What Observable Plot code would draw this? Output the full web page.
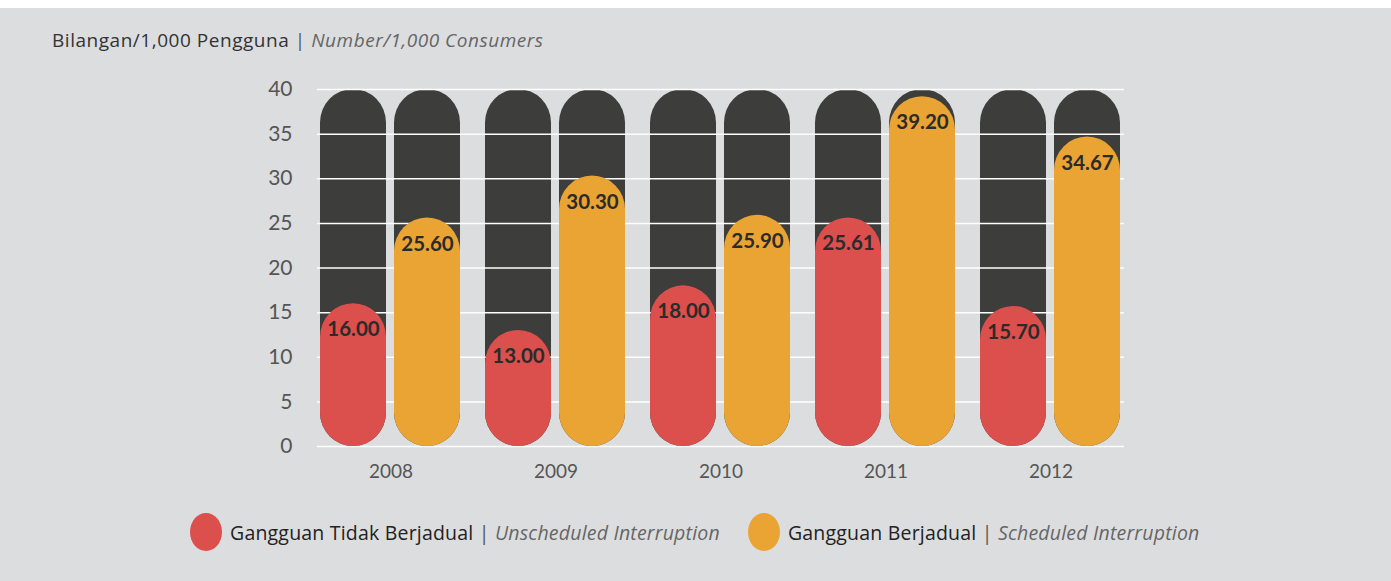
<!DOCTYPE html>
<html>
<head>
<meta charset="utf-8">
<script src="https://cdn.jsdelivr.net/npm/d3@7"></script>
<script src="https://cdn.jsdelivr.net/npm/@observablehq/plot@0.6"></script>
<style>
  html, body { margin: 0; padding: 0; background: #ffffff; }
  #wrap { position: relative; margin-top: 8px; width: 1391px; height: 573px; background: #dcdddf; font-family: "Open Sans", Lato, sans-serif; overflow: hidden; }
  #title { position: absolute; left: 52px; top: 19px; font-size: 19px; letter-spacing: 0.53px; color: #333; white-space: nowrap; }
  #title i { color: #666; }
  #chart { position: absolute; left: 0; top: 43px; }
  #legend { position: absolute; left: 190px; top: 505px; display: flex; align-items: center; font-size: 19.5px; letter-spacing: 0.2px; color: #222; white-space: nowrap; }
  .sw { width: 32px; height: 38px; border-radius: 16px / 19px; margin-right: 8px; display: inline-block; }
  .item { display: flex; align-items: center; margin-right: 28px; }
  .item i { color: #666; }
</style>
</head>
<body>
<div id="wrap">
  <div id="title">Bilangan/1,000 Pengguna <span style="color:#555">|</span> <i>Number/1,000 Consumers</i></div>
  <div id="chart"></div>
  <div id="legend"></div>
</div>
<script>
const years = ["2008", "2009", "2010", "2011", "2012"];
const seriesKeys = ["Unscheduled", "Scheduled"];
const seriesLabelsMs = ["Gangguan Tidak Berjadual", "Gangguan Berjadual"];
const seriesLabelsEn = ["Unscheduled Interruption", "Scheduled Interruption"];
const unscheduled = [16.00, 13.00, 18.00, 25.61, 15.70];
const scheduled = [25.60, 30.30, 25.90, 39.20, 34.67];
const maxValue = 40;
const yTicks = [0, 5, 10, 15, 20, 25, 30, 35, 40];
const colors = ["#db4f4d", "#e9a434"];

const data = [];
years.forEach((yr, i) => {
  data.push({year: yr, series: seriesKeys[0], value: unscheduled[i]});
  data.push({year: yr, series: seriesKeys[1], value: scheduled[i]});
});
const bgData = data.map(d => ({year: d.year, series: d.series, value: maxValue}));
const gridData = years.flatMap(yr => yTicks.map(t => ({year: yr, v: t})));
const first = years[0], last = years[years.length - 1];
const gridStyle = {fx: "year", y: "v", stroke: "#ffffff", strokeWidth: 1.5};

const chart = Plot.plot({
  width: 1391,
  height: 445,
  marginLeft: 316,
  marginRight: 265,
  marginTop: 38,
  marginBottom: 50,
  style: {background: "transparent", fontFamily: "Lato, 'Open Sans', sans-serif"},
  fx: {domain: years, paddingInner: 0.145, paddingOuter: 0.018, label: null},
  x: {domain: seriesKeys, paddingInner: 0.107, paddingOuter: 0, axis: null},
  y: {domain: [0, maxValue], axis: null},
  color: {domain: seriesKeys, range: colors},
  marks: [
    Plot.barY(bgData, {fx: "year", x: "series", y: "value", fill: "#3d3d3b", rx: 33.5}),
    Plot.ruleY(gridData.filter(d => d.year === first), {...gridStyle, insetLeft: -3, insetRight: -12}),
    Plot.ruleY(gridData.filter(d => d.year !== first && d.year !== last), {...gridStyle, insetLeft: -12, insetRight: -12}),
    Plot.ruleY(gridData.filter(d => d.year === last), {...gridStyle, insetLeft: -12, insetRight: -3}),
    Plot.barY(data, {fx: "year", x: "series", y: "value", fill: "series", rx: 33.5}),
    Plot.text(data, {fx: "year", x: "series", y: "value", text: d => d.value.toFixed(2), dy: 26, fill: "#2b2b2b", fontSize: 20.5, fontWeight: "bold"}),
    Plot.axisY(yTicks, {tickSize: 0, tickPadding: 28, fontSize: 21, fill: "#555", anchor: "left", label: null}),
    Plot.axisFx({anchor: "bottom", tickSize: 0, tickPadding: 18, fontSize: 19, fill: "#555", label: null})
  ]
});
document.getElementById("chart").appendChild(chart);

const legend = document.getElementById("legend");
seriesKeys.forEach((k, i) => {
  const it = document.createElement("div");
  it.className = "item";
  it.innerHTML = `<span class="sw" style="background:${colors[i]}"></span><span>${seriesLabelsMs[i]} <span style="color:#555">|</span> <i>${seriesLabelsEn[i]}</i></span>`;
  legend.appendChild(it);
});
</script>
</body>
</html>
